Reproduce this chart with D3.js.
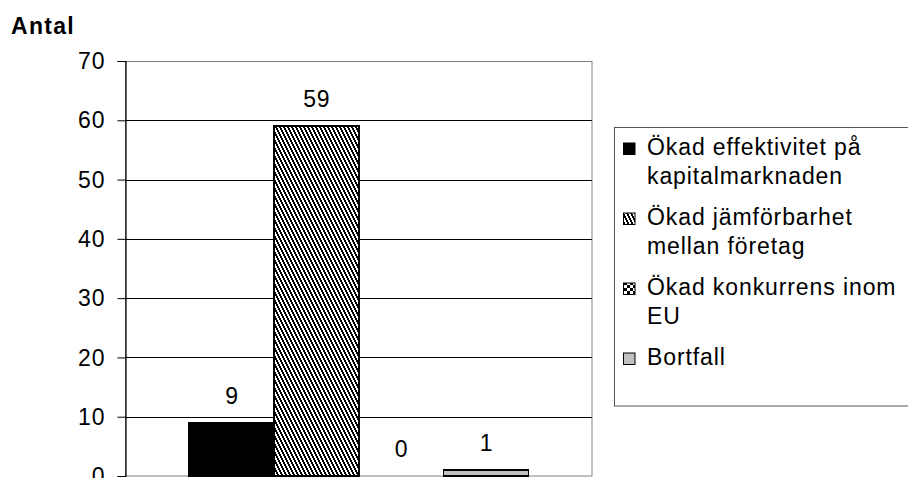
<!DOCTYPE html>
<html>
<head>
<meta charset="utf-8">
<script src="https://cdn.jsdelivr.net/npm/d3@7"></script>
<style>
  html, body { margin: 0; padding: 0; background: #fff; }
  svg { display: block; font-family: "Liberation Sans", Arial, sans-serif; }
</style>
</head>
<body>
<svg id="chart" width="908" height="478"></svg>
<script>
// Survey answers: number of respondents per reason
const categories = [
  "Ökad effektivitet på kapitalmarknaden",
  "Ökad jämförbarhet mellan företag",
  "Ökad konkurrens inom EU",
  "Bortfall"
];
const legendLines = [
  ["Ökad effektivitet på", "kapitalmarknaden"],
  ["Ökad jämförbarhet", "mellan företag"],
  ["Ökad konkurrens inom", "EU"],
  ["Bortfall"]
];
const values = [9, 59, 0, 1];
const yTicks = [0, 10, 20, 30, 40, 50, 60, 70];
const yTitle = "Antal";

const svg = d3.select("#chart");
const defs = svg.append("defs");

// Steep diagonal weave fill
const weave = defs.append("pattern")
  .attr("id", "weave").attr("patternUnits", "userSpaceOnUse")
  .attr("width", 4).attr("height", 8);
weave.append("rect").attr("width", 4).attr("height", 8).attr("fill", "#fff");
[[0,0],[1,0],[0,1],[1,1],[1,2],[2,2],[1,3],[2,3],[2,4],[3,4],[2,5],[3,5],[0,6],[3,6],[0,7],[3,7]]
  .forEach(([px, py]) => weave.append("rect")
    .attr("x", px).attr("y", py).attr("width", 1).attr("height", 1).attr("fill", "#000"));

// Checkerboard fill
const checker = defs.append("pattern")
  .attr("id", "checker").attr("patternUnits", "userSpaceOnUse")
  .attr("width", 6).attr("height", 6);
checker.append("rect").attr("width", 6).attr("height", 6).attr("fill", "#fff");
checker.append("rect").attr("width", 3).attr("height", 3).attr("fill", "#000");
checker.append("rect").attr("x", 3).attr("y", 3).attr("width", 3).attr("height", 3).attr("fill", "#000");

const fills = ["#000000", "url(#weave)", "url(#checker)", "#c0c0c0"];

const plot = { left: 125.5, right: 592, top: 61, bottom: 476 };
const textSpacing = "0.9px";

const x = d3.scaleBand()
  .domain(categories)
  .range([plot.left, plot.right])
  .paddingInner(0)
  .paddingOuter(0.75);

const y = d3.scaleLinear()
  .domain([0, 70])
  .range([plot.bottom, plot.top]);

// Plot area frame (grey) and gridlines
svg.append("rect")
  .attr("x", plot.left).attr("y", plot.top + 0.5)
  .attr("width", plot.right - plot.left).attr("height", plot.bottom - plot.top - 0.5)
  .attr("fill", "none").attr("stroke", "#808080").attr("stroke-width", 1);

svg.append("g")
  .selectAll("line")
  .data(yTicks.filter(t => t > 0 && t < 70))
  .join("line")
  .attr("x1", plot.left).attr("x2", plot.right)
  .attr("y1", d => Math.round(y(d)) + 0.5).attr("y2", d => Math.round(y(d)) + 0.5)
  .attr("stroke", "#000").attr("stroke-width", 1);

// Value axis
const yAxis = d3.axisLeft(y)
  .tickValues(yTicks)
  .tickSize(8)
  .tickPadding(12)
  .tickFormat(d3.format("d"));

const gy = svg.append("g")
  .attr("transform", `translate(${plot.left},0)`)
  .call(yAxis);
gy.select(".domain").attr("stroke", "#000").attr("stroke-width", 1.2);
gy.selectAll(".tick line").attr("stroke", "#000");
gy.selectAll(".tick text")
  .attr("fill", "#000")
  .style("font-size", "23px")
  .style("letter-spacing", textSpacing)
  .style("font-family", "'Liberation Sans', Arial, sans-serif")
  .attr("dy", "0.33em");

// Bars
svg.append("g")
  .selectAll("rect")
  .data(values)
  .join("rect")
  .attr("x", (d, i) => x(categories[i]))
  .attr("width", x.bandwidth())
  .attr("y", d => y(d))
  .attr("height", d => y(0) - y(d))
  .attr("fill", (d, i) => fills[i])
  .attr("stroke", "#000")
  .attr("stroke-width", 1.5)
  .attr("shape-rendering", "crispEdges");

// Value labels
svg.append("g")
  .selectAll("text")
  .data(values)
  .join("text")
  .attr("x", (d, i) => x(categories[i]) + x.bandwidth() / 2 + 0.5)
  .attr("y", d => y(d) - 19)
  .attr("text-anchor", "middle")
  .style("font-size", "23px")
  .style("letter-spacing", textSpacing)
  .attr("fill", "#000")
  .text(d => d);

// Axis title
svg.append("text")
  .attr("x", 11).attr("y", 34)
  .style("font-size", "23px")
  .style("font-weight", "bold")
  .style("letter-spacing", "1.3px")
  .attr("fill", "#000")
  .text(yTitle);

// Legend
const legend = svg.append("g");
legend.append("rect")
  .attr("x", 614.5).attr("y", 127.5)
  .attr("width", 400).attr("height", 278.5)
  .attr("fill", "#fff").attr("stroke", "#555").attr("stroke-width", 1);

let lineCount = 0;
legendLines.forEach((lines, i) => {
  const base = 155 + lineCount * 28.5 + i * 13;
  legend.append("rect")
    .attr("x", 623.5).attr("y", base - 12)
    .attr("width", 11.5).attr("height", 11.5)
    .attr("fill", fills[i]).attr("stroke", "#000").attr("stroke-width", 1);
  lines.forEach((ln, j) => {
    legend.append("text")
      .attr("x", 647).attr("y", base + j * 28.5)
      .style("font-size", "23px")
      .style("letter-spacing", textSpacing)
      .attr("fill", "#000")
      .text(ln);
  });
  lineCount += lines.length;
});
</script>
</body>
</html>
